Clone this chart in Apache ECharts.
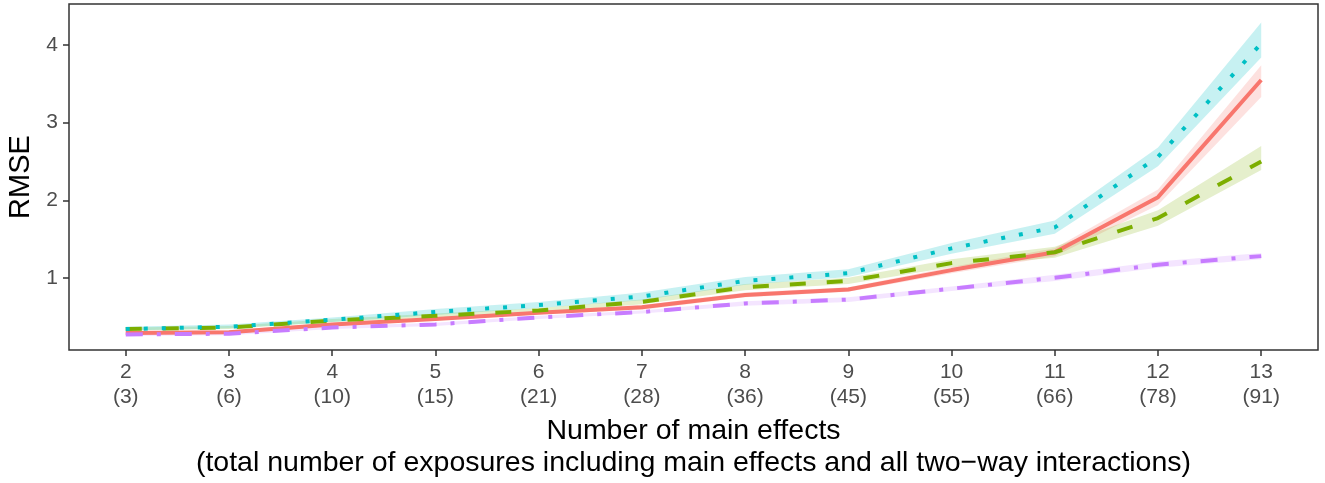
<!DOCTYPE html>
<html>
<head>
<meta charset="utf-8">
<script src="https://cdn.jsdelivr.net/npm/echarts@6/dist/echarts.min.js"></script>
<style>
  body { margin: 0; background: #fff; }
  #chart { width: 1325px; height: 483px; }
</style>
</head>
<body>
<div id="chart"></div>
<script>
// x axis: number of main effects, with total exposures below
const mainEffects = [2, 3, 4, 5, 6, 7, 8, 9, 10, 11, 12, 13];
const exposures = [3, 6, 10, 15, 21, 28, 36, 45, 55, 66, 78, 91];
const yTicks = [1, 2, 3, 4];

// RMSE (mean and ribbon bounds)
const redMean  = [0.29, 0.30, 0.40, 0.47, 0.55, 0.62, 0.78, 0.85, 1.10, 1.33, 2.04, 3.55];
const redLow   = [0.27, 0.28, 0.38, 0.45, 0.53, 0.59, 0.75, 0.82, 1.06, 1.28, 1.94, 3.33];
const redHigh  = [0.31, 0.32, 0.42, 0.49, 0.57, 0.65, 0.81, 0.88, 1.14, 1.38, 2.14, 3.74];

const greenMean = [0.34, 0.36, 0.45, 0.51, 0.58, 0.69, 0.88, 0.96, 1.19, 1.33, 1.77, 2.50];
const greenLow  = [0.32, 0.34, 0.43, 0.49, 0.55, 0.66, 0.84, 0.92, 1.14, 1.26, 1.67, 2.39];
const greenHigh = [0.36, 0.38, 0.47, 0.54, 0.61, 0.72, 0.92, 1.00, 1.24, 1.40, 1.87, 2.70];

const cyanMean = [0.34, 0.37, 0.46, 0.56, 0.65, 0.76, 0.96, 1.06, 1.38, 1.65, 2.56, 4.02];
const cyanLow  = [0.32, 0.35, 0.43, 0.52, 0.61, 0.71, 0.91, 1.01, 1.31, 1.57, 2.44, 3.84];
const cyanHigh = [0.37, 0.40, 0.49, 0.60, 0.69, 0.81, 1.01, 1.11, 1.45, 1.74, 2.68, 4.29];

const purpleMean = [0.27, 0.28, 0.36, 0.40, 0.49, 0.56, 0.67, 0.72, 0.86, 1.00, 1.17, 1.28];
const purpleLow  = [0.25, 0.26, 0.34, 0.38, 0.47, 0.54, 0.64, 0.69, 0.83, 0.96, 1.13, 1.24];
const purpleHigh = [0.29, 0.30, 0.38, 0.42, 0.51, 0.58, 0.70, 0.75, 0.89, 1.04, 1.21, 1.32];

const groups = [
  { id: 'red',    color: '#F8766D', band: 'rgba(248,118,109,0.22)', mean: redMean,    low: redLow,    high: redHigh,    dash: 'solid' },
  { id: 'green',  color: '#7CAE00', band: 'rgba(124,174,0,0.2)',    mean: greenMean,  low: greenLow,  high: greenHigh,  dash: [16, 21] },
  { id: 'cyan',   color: '#00BFC4', band: 'rgba(0,191,196,0.22)',   mean: cyanMean,   low: cyanLow,   high: cyanHigh,   dash: [4, 14] },
  { id: 'purple', color: '#C77CFF', band: 'rgba(199,124,255,0.2)',  mean: purpleMean, low: purpleLow, high: purpleHigh, dash: [17, 14, 4, 14] }
];

const pairs = (ys) => mainEffects.map((x, i) => [x, ys[i]]);

let series = [];
// ribbons: one polygon per group, upper edge then lower edge back
groups.forEach(g => {
  series.push({
    type: 'custom', silent: true, z: 1,
    data: mainEffects.map((x, i) => [x, g.low[i], g.high[i]]),
    renderItem: (params, api) => {
      if (params.dataIndex !== 0) return;
      const top = mainEffects.map((x, i) => api.coord([x, g.high[i]]));
      const bottom = mainEffects.map((x, i) => api.coord([x, g.low[i]])).reverse();
      return {
        type: 'polygon',
        shape: { points: top.concat(bottom) },
        style: { fill: g.band }
      };
    }
  });
});
// mean lines on top
groups.forEach(g => {
  series.push({
    type: 'line', data: pairs(g.mean), symbol: 'none', z: 3,
    lineStyle: { color: g.color, width: 4, type: g.dash, cap: 'butt' }
  });
});

const chart = echarts.init(document.getElementById('chart'));
chart.setOption({
  animation: false,
  grid: {
    left: 69, right: 7, top: 4, bottom: 133,
    outerBoundsMode: 'none', containLabel: false,
    show: true, borderColor: '#333', borderWidth: 1.5
  },
  xAxis: {
    type: 'value', min: 1.45, max: 13.55,
    name: 'Number of main effects\n(total number of exposures including main effects and all two\u2212way interactions)',
    nameLocation: 'middle', nameGap: 63,
    nameTextStyle: { fontFamily: 'Liberation Sans', fontSize: 28.5, color: '#000', lineHeight: 32 },
    axisLine: { show: false },
    splitLine: { show: false },
    axisTick: { show: true, length: 6, customValues: mainEffects, lineStyle: { color: '#333', width: 1.5 } },
    axisLabel: {
      customValues: mainEffects, margin: 10,
      fontFamily: 'Liberation Sans', fontSize: 21, color: '#4D4D4D', lineHeight: 25,
      formatter: (v) => v + '\n(' + exposures[mainEffects.indexOf(v)] + ')'
    }
  },
  yAxis: {
    type: 'value', min: 0.07, max: 4.53,
    name: 'RMSE', nameLocation: 'middle', nameGap: 34,
    nameTextStyle: { fontFamily: 'Liberation Sans', fontSize: 29, color: '#000' },
    axisLine: { show: false },
    splitLine: { show: false },
    axisTick: { show: true, length: 6, customValues: yTicks, lineStyle: { color: '#333', width: 1.5 } },
    axisLabel: {
      customValues: yTicks, margin: 11,
      fontFamily: 'Liberation Sans', fontSize: 21, color: '#4D4D4D'
    }
  },
  series: series
});
</script>
</body>
</html>
